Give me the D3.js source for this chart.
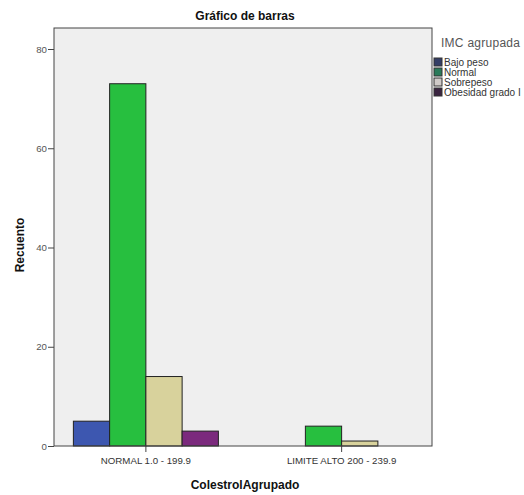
<!DOCTYPE html>
<html><head><meta charset="utf-8">
<script src="https://cdn.jsdelivr.net/npm/d3@7"></script>
<style>body{margin:0;background:#fff}svg{display:block;font-family:"Liberation Sans",Arial,sans-serif}</style>
</head><body><svg id="c" width="524" height="495"></svg>
<script>
const categories = ["NORMAL 1.0 - 199.9", "LIMITE ALTO 200 - 239.9"];
const seriesNames = ["Bajo peso", "Normal", "Sobrepeso", "Obesidad grado I"];
const bajoPeso = [5, 0];
const normal = [73, 4];
const sobrepeso = [14, 1];
const obesidad = [3, 0];
const yTicks = [0, 20, 40, 60, 80];
const colors = ["#3d57b0", "#27bf3f", "#d8d29c", "#7b2a7d"];
const swatchColors = ["#343e66", "#2a7a5a", "#cfcac8", "#3a2440"];

const series = [bajoPeso, normal, sobrepeso, obesidad];
const svg = d3.select("#c");
const frame = {l: 54, r: 432, t: 28, b: 446};

svg.append("rect").attr("x", frame.l).attr("y", frame.t).attr("width", frame.r - frame.l).attr("height", frame.b - frame.t).attr("fill", "#efefef");

const x = d3.scaleBand().domain(categories).range([48, 439.5]);
const xs = d3.scaleBand().domain(seriesNames).range([0, 145]);
const y = d3.scaleLinear().domain([0, 80]).range([frame.b, 49]);

categories.forEach((c, ci) => {
  const g = svg.append("g").attr("transform", `translate(${x(c) + x.bandwidth()/2 - 72.5},0)`);
  series.forEach((s, si) => {
    if (s[ci] <= 0) return;
    g.append("rect").attr("x", xs(seriesNames[si])).attr("y", y(s[ci]))
      .attr("width", xs.bandwidth()).attr("height", y(0) - y(s[ci]))
      .attr("fill", colors[si]).attr("stroke", "#222").attr("stroke-width", 1);
  });
});

svg.append("rect").attr("x", frame.l).attr("y", frame.t).attr("width", frame.r - frame.l).attr("height", frame.b - frame.t).attr("fill", "none").attr("stroke", "#444").attr("stroke-width", 1);

const yAxis = svg.append("g").attr("transform", `translate(${frame.l},0)`)
  .call(d3.axisLeft(y).tickValues(yTicks).tickSize(6).tickPadding(1).tickSizeOuter(0));
yAxis.select(".domain").remove();
yAxis.selectAll("line").attr("stroke", "#444");
yAxis.selectAll("text").attr("font-size", 9.7).attr("fill", "#555");

const xAxis = svg.append("g").attr("transform", `translate(0,${frame.b})`)
  .call(d3.axisBottom(x).tickSize(6).tickPadding(5).tickSizeOuter(0));
xAxis.select(".domain").remove();
xAxis.selectAll("line").attr("stroke", "#444");
xAxis.selectAll("text").attr("font-size", 9.7).attr("fill", "#333");

svg.append("text").attr("x", 245).attr("y", 20).attr("text-anchor", "middle").attr("font-size", 12).attr("font-weight", "bold").attr("fill", "#111").text("Gráfico de barras");
svg.append("text").attr("x", 245).attr("y", 489).attr("text-anchor", "middle").attr("font-size", 12).attr("font-weight", "bold").attr("fill", "#111").text("ColestrolAgrupado");
svg.append("text").attr("transform", "translate(24,245) rotate(-90)").attr("text-anchor", "middle").attr("font-size", 12).attr("font-weight", "bold").attr("fill", "#111").text("Recuento");

// legend
svg.append("text").attr("x", 441).attr("y", 47).attr("font-size", 12).attr("fill", "#555")
  .attr("textLength", 79).text("IMC agrupada");
seriesNames.forEach((n, i) => {
  const yy = 58 + i * 10;
  svg.append("rect").attr("x", 434).attr("y", yy).attr("width", 8).attr("height", 8)
    .attr("fill", swatchColors[i]).attr("stroke", "#333").attr("stroke-width", 1);
  svg.append("text").attr("x", 444).attr("y", yy + 7.5).attr("font-size", 10).attr("fill", "#333").text(n);
});
</script></body></html>
